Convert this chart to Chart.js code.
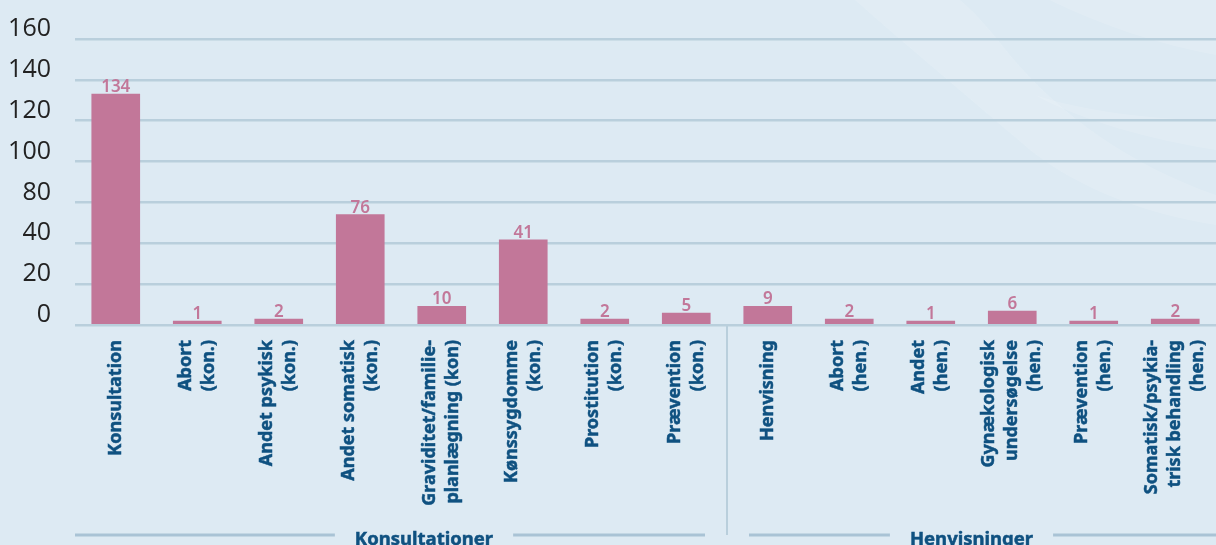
<!DOCTYPE html>
<html>
<head>
<meta charset="utf-8">
<script src="https://cdn.jsdelivr.net/npm/chart.js@4"></script>
<style>
    html, body { margin: 0; padding: 0; background: #ddeaf3; overflow: hidden; }
    #wrap { width: 1216px; height: 545px; }
</style>
</head>
<body>
<div id="wrap"><canvas id="chart" width="1216" height="545"></canvas></div>
<script>
// Chart data
const categories = [
    'Konsultation',
    ['Abort', '(kon.)'],
    ['Andet psykisk', '(kon.)'],
    ['Andet somatisk', '(kon.)'],
    ['Graviditet/familie-', 'planlægning (kon)'],
    ['Kønssygdomme', '(kon.)'],
    ['Prostitution', '(kon.)'],
    ['Prævention', '(kon.)'],
    'Henvisning',
    ['Abort', '(hen.)'],
    ['Andet', '(hen.)'],
    ['Gynækologisk', 'undersøgelse', '(hen.)'],
    ['Prævention', '(hen.)'],
    ['Somatisk/psykia-', 'trisk behandling', '(hen.)']
];

// printed numbers above the bars
const counts = [134, 1, 2, 76, 10, 41, 2, 5, 9, 2, 1, 6, 1, 2];

// bar heights as drawn, read against the gridlines (20 per gridline step)
const barLevels = [113, 1.9, 2.9, 54, 9.2, 41.7, 2.9, 5.8, 9.2, 2.9, 1.9, 6.8, 1.9, 2.9];

// tick labels as printed on the axis (one per gridline)
const yTickLabels = ['0', '20', '40', '80', '100', '120', '140', '160'];

const groupNames = ['Konsultationer', 'Henvisninger'];
const groupSizes = [8, 6];

const BAR_COLOR = '#c27799';
const LABEL_BLUE = '#0f5180';
const GRID_COLOR = '#b9cfdc';
const LABEL_LINE_HEIGHT = 23;

// Background + faint streaks in the top right
const backgroundPlugin = {
    id: 'background',
    beforeDraw(chart) {
        const ctx = chart.ctx;
        ctx.save();
        ctx.fillStyle = '#ddeaf3';
        ctx.fillRect(0, 0, chart.width, chart.height);

        ctx.fillStyle = 'rgba(255, 255, 255, 0.13)';
        ctx.beginPath();
        ctx.moveTo(855, 0);
        ctx.bezierCurveTo(900, 40, 960, 90, 1030, 150);
        ctx.bezierCurveTo(1080, 190, 1150, 215, 1216, 225);
        ctx.lineTo(1216, 195);
        ctx.bezierCurveTo(1130, 165, 1060, 115, 1010, 55);
        ctx.bezierCurveTo(990, 30, 975, 12, 960, 0);
        ctx.closePath();
        ctx.fill();

        ctx.beginPath();
        ctx.moveTo(1050, 0);
        ctx.bezierCurveTo(1100, 25, 1160, 45, 1216, 55);
        ctx.lineTo(1216, 0);
        ctx.closePath();
        ctx.fill();

        ctx.beginPath();
        ctx.moveTo(1035, 95);
        ctx.bezierCurveTo(1080, 110, 1150, 120, 1216, 120);
        ctx.lineTo(1216, 150);
        ctx.bezierCurveTo(1150, 140, 1080, 120, 1035, 95);
        ctx.closePath();
        ctx.fill();
        ctx.restore();
    }
};

// Numbers above bars, rotated category labels, group captions and separator
const annotationPlugin = {
    id: 'annotations',
    afterDatasetsDraw(chart) {
        const ctx = chart.ctx;
        const meta = chart.getDatasetMeta(0);
        ctx.save();
        ctx.fillStyle = BAR_COLOR;
        ctx.font = '600 17px "Noto Sans"';
        ctx.textAlign = 'center';
        ctx.textBaseline = 'alphabetic';
        meta.data.forEach((bar, i) => {
            ctx.fillText(String(counts[i]), bar.x, bar.y - 2);
        });
        ctx.restore();
    },
    afterDraw(chart) {
        const ctx = chart.ctx;
        const x = chart.scales.x;
        const area = chart.chartArea;
        const lineY = 535;

        // category labels, rotated, block centred on the bar
        ctx.save();
        ctx.fillStyle = LABEL_BLUE;
        ctx.strokeStyle = LABEL_BLUE;
        ctx.lineWidth = 0.5;
        ctx.font = 'bold 18px "Noto Sans"';
        ctx.textAlign = 'right';
        ctx.textBaseline = 'middle';
        categories.forEach((label, i) => {
            const lines = Array.isArray(label) ? label : [label];
            const cx = x.getPixelForTick(i);
            lines.forEach((line, j) => {
                const off = (j - (lines.length - 1) / 2) * LABEL_LINE_HEIGHT;
                ctx.save();
                ctx.translate(cx + off, area.bottom + 15);
                ctx.rotate(-Math.PI / 2);
                ctx.fillText(line, 0, 0);
                ctx.strokeText(line, 0, 0);
                ctx.restore();
            });
        });
        ctx.restore();

        const sepIndex = groupSizes[0];
        const sepX = (x.getPixelForTick(sepIndex - 1) + x.getPixelForTick(sepIndex)) / 2;

        ctx.save();
        ctx.strokeStyle = GRID_COLOR;
        ctx.lineWidth = 2;
        ctx.beginPath();
        ctx.moveTo(sepX, area.bottom);
        ctx.lineTo(sepX, lineY);
        ctx.stroke();

        const spans = [
            [area.left, sepX - 22],
            [sepX + 22, area.right]
        ];
        const textShift = [23, 0];
        let start = 0;
        ctx.font = 'bold 18.5px "Noto Sans"';
        ctx.textAlign = 'center';
        ctx.textBaseline = 'alphabetic';
        groupNames.forEach((name, g) => {
            const first = x.getPixelForTick(start);
            const last = x.getPixelForTick(start + groupSizes[g] - 1);
            const cx = (first + last) / 2 + textShift[g];
            const w = ctx.measureText(name).width;

            ctx.strokeStyle = '#a9c3d5';
            ctx.lineWidth = 3;
            ctx.beginPath();
            ctx.moveTo(spans[g][0], lineY);
            ctx.lineTo(cx - w / 2 - 20, lineY);
            ctx.moveTo(cx + w / 2 + 20, lineY);
            ctx.lineTo(spans[g][1], lineY);
            ctx.stroke();

            ctx.fillStyle = LABEL_BLUE;
            ctx.strokeStyle = LABEL_BLUE;
            ctx.lineWidth = 0.5;
            ctx.fillText(name, cx, 545);
            ctx.strokeText(name, cx, 545);
            start += groupSizes[g];
        });
        ctx.restore();
    }
};

new Chart(document.getElementById('chart'), {
    type: 'bar',
    data: {
        labels: categories,
        datasets: [{
            data: barLevels,
            backgroundColor: BAR_COLOR,
            borderWidth: 0,
            barThickness: 48
        }]
    },
    options: {
        responsive: false,
        animation: false,
        layout: {
            padding: { top: 36, right: 0, bottom: 0, left: 0 }
        },
        plugins: {
            legend: { display: false },
            tooltip: { enabled: false }
        },
        scales: {
            x: {
                border: { display: false },
                grid: { display: false, drawTicks: false },
                ticks: { display: false, autoSkip: false },
                afterFit(scale) {
                    scale.height = 220;
                    scale.paddingLeft = 0;
                    scale.paddingRight = 0;
                }
            },
            y: {
                min: 0,
                max: 140,
                border: { display: false },
                grid: { color: GRID_COLOR, lineWidth: 2.5, drawTicks: false },
                ticks: {
                    stepSize: 20,
                    padding: 24,
                    labelOffset: -10,
                    color: '#222222',
                    font: { family: 'Open Sans', size: 25 },
                    callback: (value, index) => yTickLabels[index]
                },
                afterFit(scale) {
                    scale.width = 75;
                }
            }
        }
    },
    plugins: [backgroundPlugin, annotationPlugin]
});
</script>
</body>
</html>
